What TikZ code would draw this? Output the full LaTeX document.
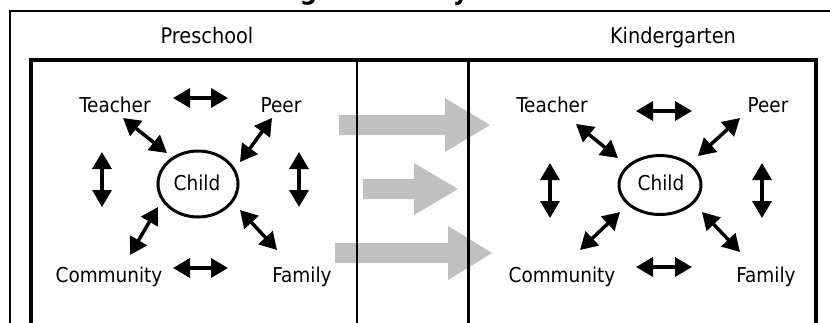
\documentclass[tikz,border=0pt]{standalone}
\usepackage{fontspec}
\setmainfont{DejaVu Sans Condensed}
\usetikzlibrary{arrows.meta,shapes.geometric}
\definecolor{arrowgray}{RGB}{192,192,192}
\newlength\titleoff
\begin{document}
\begin{tikzpicture}[x=1pt,y=-1pt,
  lab/.style={anchor=base,inner sep=0pt,font=\fontsize{20.5}{24}\selectfont},
  head/.style={anchor=base,inner sep=0pt,font=\fontsize{21.5}{25}\selectfont},
  dbl/.style={line width=3.5pt,{Triangle[length=17pt,width=19pt]}-{Triangle[length=17pt,width=19pt]}},
  bigarrow/.style={fill=arrowgray,draw=none},
  childnode/.style={ellipse,draw,line width=3pt,inner sep=0pt,font=\fontsize{20.5}{24}\selectfont}]
\useasboundingbox (0,0) rectangle (830,322);
% title (mostly cut off above the page)
\settowidth{\titleoff}{\fontsize{27}{30}\selectfont\bfseries Ecolo}
\path (227,-1) node[anchor=base west,inner sep=0pt,xshift=-\titleoff,font=\fontsize{27}{30}\selectfont\bfseries] (title) {Ecological and Dynamic Model of Transition};
% grey transition arrows
\fill[bigarrow] (339,115) -- (445,115) -- (445,98) -- (490,125) -- (445,152) -- (445,135) -- (339,135) -- cycle;
\fill[bigarrow] (363,179) -- (414,179) -- (414,163) -- (458,189) -- (414,215) -- (414,199) -- (363,199) -- cycle;
\fill[bigarrow] (335,243) -- (448,243) -- (448,226) -- (492,253) -- (448,280) -- (448,263) -- (335,263) -- cycle;
% frames
\draw[line width=2pt] (10,330) -- (10,11) -- (840,11);
\draw[line width=4pt] (31,330) -- (31,60) -- (816,60) -- (816,330);
\draw[line width=2.5pt] (357,60) -- (357,330);
\draw[line width=3pt] (468,60) -- (468,330);
% headings
\node[head] (pre) at (207,43) {Preschool};
\node[head] (kin) at (673,43) {Kindergarten};
% left panel
\node[childnode,minimum width=80pt,minimum height=66pt] (childL) at (198,184) {};
\node[lab] (childLt) at (197,190) {Child};
\node[lab] (teacherL) at (115,112) {Teacher};
\node[lab] (peerL) at (281,112) {Peer};
\node[lab] (commL) at (109,282) {Community};
\node[lab] (famL) at (302,282) {Family};
\coordinate (L1a) at (173,98);  \coordinate (L1b) at (228,98);
\coordinate (L2a) at (173,268); \coordinate (L2b) at (228,268);
\coordinate (L3a) at (102,152); \coordinate (L3b) at (102,207);
\coordinate (L4a) at (299,152); \coordinate (L4b) at (299,207);
\coordinate (L5a) at (123,118); \coordinate (L5b) at (167,153);
\coordinate (L6a) at (272,118); \coordinate (L6b) at (240,162);
\coordinate (L7a) at (130,255); \coordinate (L7b) at (158,207);
\coordinate (L8a) at (240,210); \coordinate (L8b) at (277,250);
\foreach \i in {1,...,8} {\draw[dbl] (L\i a) -- (L\i b);}
% right panel
\node[childnode,minimum width=82pt,minimum height=59pt] (childR) at (660,185) {};
\node[lab] (childRt) at (661,190) {Child};
\node[lab] (teacherR) at (552,112) {Teacher};
\node[lab] (peerR) at (768,112) {Peer};
\node[lab] (commR) at (562,282) {Community};
\node[lab] (famR) at (766,282) {Family};
\coordinate (R1a) at (636,111); \coordinate (R1b) at (692,111);
\coordinate (R2a) at (636,267); \coordinate (R2b) at (692,267);
\coordinate (R3a) at (550,163); \coordinate (R3b) at (550,218);
\coordinate (R4a) at (762,163); \coordinate (R4b) at (762,218);
\coordinate (R5a) at (576,124); \coordinate (R5b) at (618,158);
\coordinate (R6a) at (740,118); \coordinate (R6b) at (698,156);
\coordinate (R7a) at (580,250); \coordinate (R7b) at (620,212);
\coordinate (R8a) at (702,212); \coordinate (R8b) at (740,252);
\foreach \i in {1,...,8} {\draw[dbl] (R\i a) -- (R\i b);}
\end{tikzpicture}
\end{document}
